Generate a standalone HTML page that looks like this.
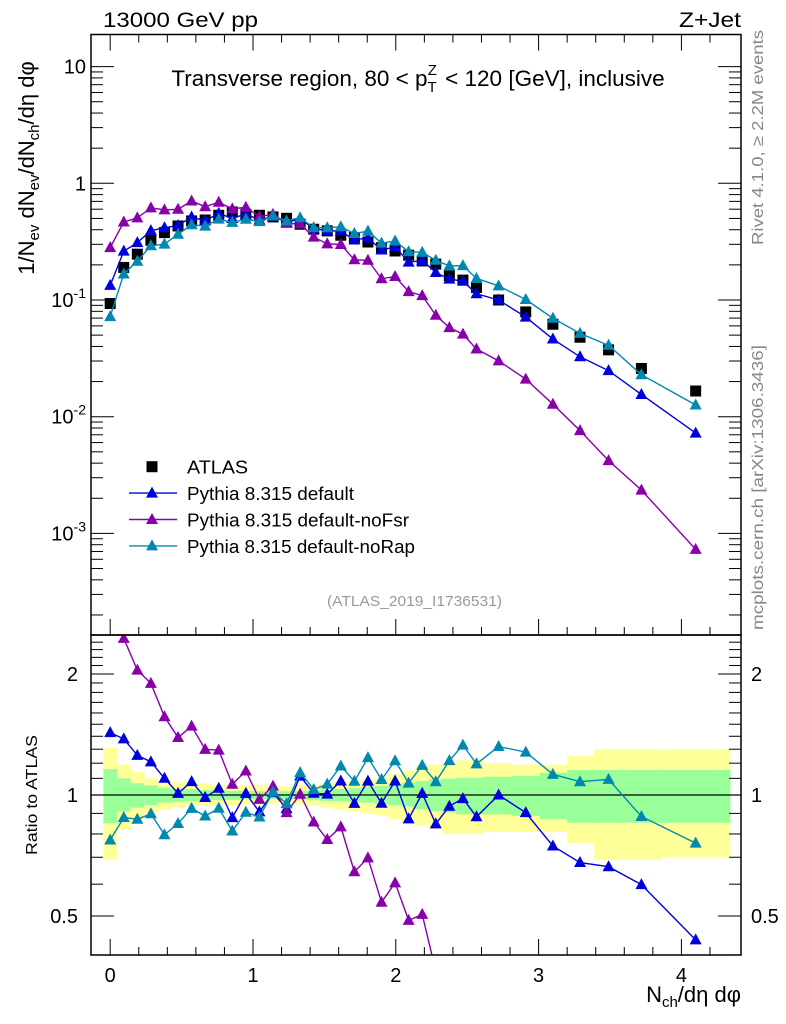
<!DOCTYPE html>
<html><head><meta charset="utf-8"><style>
html,body{margin:0;padding:0;background:#fff;overflow:hidden;width:786px;height:1024px;}
svg{display:block;font-family:"Liberation Sans",sans-serif;}
</style></head><body>
<svg id="chart" width="786" height="1024" viewBox="0 0 786 1024" xmlns="http://www.w3.org/2000/svg">
<g id="bands"></g>
<g id="grid"></g>
<g id="series"></g>
<rect x="91" y="34.5" width="650" height="600.5" fill="none" stroke="#000" stroke-width="1.5"/>
<rect x="91" y="635" width="650" height="320" fill="none" stroke="#000" stroke-width="1.5"/>
<text x="103" y="27" font-size="21" textLength="155" lengthAdjust="spacingAndGlyphs">13000 GeV pp</text>
<text x="741" y="27" font-size="21" text-anchor="end" textLength="62" lengthAdjust="spacingAndGlyphs">Z+Jet</text>
<text x="418" y="86" font-size="22.5" text-anchor="middle">Transverse region, 80 &lt; p<tspan font-size="15" dy="6">T</tspan><tspan font-size="15" dx="-9" dy="-17">Z</tspan><tspan dy="11" dx="2"> &lt; 120 [GeV], inclusive</tspan></text>
<text transform="translate(34,168) rotate(-90)" font-size="22" text-anchor="middle">1/N<tspan font-size="15" dy="5">ev</tspan><tspan dy="-5"> dN</tspan><tspan font-size="15" dy="5">ev</tspan><tspan dy="-5">/dN</tspan><tspan font-size="15" dy="5">ch</tspan><tspan dy="-5">/dη dφ</tspan></text>
<text transform="translate(37,795) rotate(-90)" font-size="16" text-anchor="middle" textLength="120" lengthAdjust="spacingAndGlyphs">Ratio to ATLAS</text>
<text x="741" y="1002" font-size="22" text-anchor="end">N<tspan font-size="15" dy="5">ch</tspan><tspan dy="-5">/dη dφ</tspan></text>
<text transform="translate(763,30) rotate(-90)" font-size="16" fill="#888" text-anchor="end" textLength="215" lengthAdjust="spacingAndGlyphs">Rivet 4.1.0, ≥ 2.2M events</text>
<text transform="translate(763,630) rotate(-90)" font-size="16" fill="#888" text-anchor="start" textLength="285" lengthAdjust="spacingAndGlyphs">mcplots.cern.ch [arXiv:1306.3436]</text>
<text x="327" y="606" font-size="15" fill="#999" textLength="175" lengthAdjust="spacingAndGlyphs">(ATLAS_2019_I1736531)</text>
<g id="legend"></g>
</svg>
<script>
const xVals=[0,0.095,0.19,0.285,0.38,0.475,0.57,0.665,0.76,0.855,0.95,1.045,1.14,1.235,1.33,1.425,1.52,1.615,1.71,1.805,1.9,1.995,2.09,2.185,2.28,2.375,2.47,2.565,2.72,2.91,3.1,3.29,3.49,3.72,4.1];
const binEdges=[-0.0475,0.0475,0.1425,0.2375,0.3325,0.4275,0.5225,0.6175,0.7125,0.8075,0.9025,0.9975,1.0925,1.1875,1.2825,1.3775,1.4725,1.5675,1.6625,1.7575,1.8525,1.9475,2.0425,2.1375,2.2325,2.3275,2.4225,2.5175,2.6125,2.81,3.01,3.2,3.39,3.59,3.86,4.34];
const atlas=[0.0933,0.190,0.247,0.325,0.378,0.431,0.476,0.485,0.532,0.568,0.543,0.532,0.515,0.501,0.446,0.404,0.391,0.359,0.343,0.314,0.281,0.263,0.242,0.216,0.203,0.161,0.148,0.128,0.100,0.079,0.062,0.048,0.0374,0.0259,0.0166];
const pyDefault=[0.1334,0.262,0.310,0.393,0.416,0.435,0.514,0.478,0.553,0.499,0.548,0.483,0.522,0.463,0.497,0.408,0.393,0.389,0.327,0.340,0.268,0.285,0.211,0.218,0.172,0.151,0.145,0.113,0.100,0.0714,0.0463,0.0326,0.0248,0.0155,0.00724];
const pyNoFsr=[0.281,0.466,0.505,0.616,0.592,0.599,0.706,0.630,0.688,0.604,0.623,0.519,0.542,0.453,0.448,0.346,0.303,0.299,0.221,0.219,0.152,0.159,0.118,0.109,0.074,0.058,0.051,0.038,0.0301,0.021,0.0128,0.0076,0.0042,0.00235,0.00073];
const pyNoRap=[0.0721,0.167,0.215,0.292,0.301,0.366,0.441,0.430,0.493,0.462,0.492,0.469,0.524,0.477,0.507,0.417,0.416,0.424,0.371,0.389,0.307,0.320,0.259,0.256,0.219,0.196,0.197,0.153,0.132,0.101,0.0698,0.0518,0.0409,0.0229,0.0126];
const yellowUp=[1.31,1.19,1.14,1.10,1.08,1.08,1.07,1.07,1.06,1.06,1.06,1.06,1.05,1.05,1.06,1.06,1.07,1.08,1.08,1.09,1.10,1.13,1.15,1.18,1.19,1.20,1.22,1.22,1.20,1.19,1.19,1.25,1.30,1.30,1.30];
const yellowDn=[0.69,0.82,0.87,0.90,0.92,0.93,0.94,0.94,0.944,0.944,0.948,0.948,0.952,0.952,0.948,0.94,0.93,0.92,0.91,0.90,0.89,0.87,0.85,0.84,0.82,0.80,0.80,0.80,0.81,0.81,0.81,0.76,0.69,0.69,0.70];
const greenUp=[1.16,1.10,1.07,1.057,1.043,1.037,1.033,1.029,1.027,1.025,1.023,1.022,1.022,1.022,1.023,1.025,1.03,1.035,1.04,1.049,1.053,1.063,1.073,1.083,1.094,1.098,1.104,1.104,1.11,1.115,1.136,1.154,1.154,1.154,1.154];
const greenDn=[0.85,0.91,0.93,0.943,0.957,0.961,0.966,0.969,0.971,0.973,0.976,0.976,0.976,0.976,0.975,0.97,0.966,0.964,0.961,0.957,0.948,0.943,0.935,0.921,0.912,0.904,0.895,0.895,0.895,0.887,0.870,0.853,0.853,0.853,0.853];
const mainTickLabels=["10","1","10^-1","10^-2","10^-3"];
const mainTickValues=[10,1,0.1,0.01,0.001];
const ratioTickValues=[0.5,1,2];
const xTickValues=[0,1,2,3,4];

const NS="http://www.w3.org/2000/svg";
const X=v=>110.2+142.8*v;
const YM=v=>183.3-116.7*Math.log10(v);
const YR=r=>795-121*Math.log2(r);
const L=91,R=741,MT=34.5,MB=635,RT=635,RB=955;
function mk(tag,attrs,parent){const e=document.createElementNS(NS,tag);for(const k in attrs)e.setAttribute(k,attrs[k]);parent.appendChild(e);return e;}
const svg=document.getElementById('chart');
const bands=document.getElementById('bands');
const grid=document.getElementById('grid');
const series=document.getElementById('series');
const legend=document.getElementById('legend');

for(let i=0;i<xVals.length;i++){
  const x0=Math.max(X(binEdges[i]),L), x1=X(binEdges[i+1]);
  const y=mk('rect',{x:x0,y:YR(yellowUp[i]),width:x1-x0+0.5,height:YR(yellowDn[i])-YR(yellowUp[i]),fill:'#ffff99'},bands);
  
  
  const g=mk('rect',{x:x0,y:YR(greenUp[i]),width:x1-x0+0.5,height:YR(greenDn[i])-YR(greenUp[i]),fill:'#99ff99'},bands);
  
  
}
const one=mk('line',{x1:L,x2:R,y1:YR(1),y2:YR(1),stroke:'#000','stroke-width':1.2},grid);



for(let k=0;k<=21;k++){
  const v=k/5;const major=(k%5===0);const len=major?16:8;
  [[MB,-1],[MT,1],[RB,-1]].forEach(([yy,d])=>{const tk=mk('line',{x1:X(v),x2:X(v),y1:yy,y2:yy+d*len,stroke:'#000','stroke-width':1},grid);
  
  });
}
xTickValues.forEach(v=>{const tx=mk('text',{x:X(v),y:982,'font-size':20,'text-anchor':'middle'},grid);tx.textContent=String(v);

});

for(let d=-4;d<=1;d++){
  for(let m=1;m<=9;m++){
    const v=m*Math.pow(10,d);const y=YM(v);if(y<MT||y>MB)continue;
    const len=m===1?23:12;
    [[L,1],[R,-1]].forEach(([xx,s])=>{const tk=mk('line',{x1:xx,x2:xx+s*len,y1:y,y2:y,stroke:'#000','stroke-width':1},grid);
    
    });
  }
}
mainTickValues.forEach((v,i)=>{
  const lab=mainTickLabels[i];const t=mk('text',{x:86,y:YM(v)+7,'font-size':20,'text-anchor':'end'},grid);
  if(lab.includes('^')){const [b,e]=lab.split('^');t.textContent=b;const ts=mk('tspan',{'font-size':14,dy:-9},t);ts.textContent=e;}
  else t.textContent=lab;
  
  
});
for(let k=4;k<=25;k++){
  const v=k/10;const y=YR(v);if(y<RT||y>RB)continue;
  const major=(k===5||k===10||k===20);const len=major?23:12;
  [[L,1],[R,-1]].forEach(([xx,s])=>{const tk=mk('line',{x1:xx,x2:xx+s*len,y1:y,y2:y,stroke:'#000','stroke-width':1},grid);
  
  });
}
ratioTickValues.forEach(v=>{
  const a=mk('text',{x:78,y:YR(v)+7,'font-size':20,'text-anchor':'end'},grid);a.textContent=String(v);
  
  
  const b=mk('text',{x:751,y:YR(v)+7,'font-size':20,'text-anchor':'start'},grid);b.textContent=String(v);
  
  
});

function tri(cx,cy,col,parent){const s=6;return mk('polygon',{points:`${cx-s},${cy+4.5} ${cx+s},${cy+4.5} ${cx},${cy-6.5}`,fill:col},parent);}
function clipG(top,bot,id){const cp=mk('clipPath',{id:id},svg);mk('rect',{x:L,y:top,width:R-L,height:bot-top},cp);return mk('g',{'clip-path':`url(#${id})`},series);}
const gMain=clipG(MT,MB,'cm');
const gRat=clipG(RT,RB,'cr');

atlas.forEach((v,i)=>{const r=mk('rect',{x:X(xVals[i])-5.5,y:YM(v)-5.5,width:11,height:11,fill:'#000'},gMain);

});

const mcs=[{d:pyDefault,c:'#0000dd',n:'default'},{d:pyNoFsr,c:'#8800aa',n:'noFsr'},{d:pyNoRap,c:'#0088b0',n:'noRap'}];
mcs.forEach(m=>{
  const pm=m.d.map((v,i)=>`${X(xVals[i])},${YM(v)}`).join(' ');
  const l=mk('polyline',{points:pm,fill:'none',stroke:m.c,'stroke-width':1.4},gMain);
  
  
  m.d.forEach((v,i)=>{const t=tri(X(xVals[i]),YM(v),m.c,gMain);
  
  });
  const pr=m.d.map((v,i)=>`${X(xVals[i])},${YR(v/atlas[i])}`).join(' ');
  const lr=mk('polyline',{points:pr,fill:'none',stroke:m.c,'stroke-width':1.4},gRat);
  
  
  m.d.forEach((v,i)=>{const t=tri(X(xVals[i]),YR(v/atlas[i]),m.c,gRat);
  
  });
});

const rows=[{n:'ATLAS',c:'#000',sq:true,w:61},{n:'Pythia 8.315 default',c:'#0000dd',w:167},{n:'Pythia 8.315 default-noFsr',c:'#8800aa',w:222},{n:'Pythia 8.315 default-noRap',c:'#0088b0',w:228}];
rows.forEach((r,i)=>{
  const y=466.7+i*26.4;
  if(r.sq){const s=mk('rect',{x:146.5,y:y-5.5,width:11,height:11,fill:'#000'},legend);
  
  }
  else{const ln=mk('line',{x1:129,x2:177,y1:y,y2:y,stroke:r.c,'stroke-width':1.4},legend);
  
  
  const t=tri(152,y,r.c,legend);
  
  }
  const tx=mk('text',{x:187,y:y+7,'font-size':18,textLength:r.w,lengthAdjust:'spacingAndGlyphs'},legend);tx.textContent=r.n;
  
  
});
</script>
</body></html>
